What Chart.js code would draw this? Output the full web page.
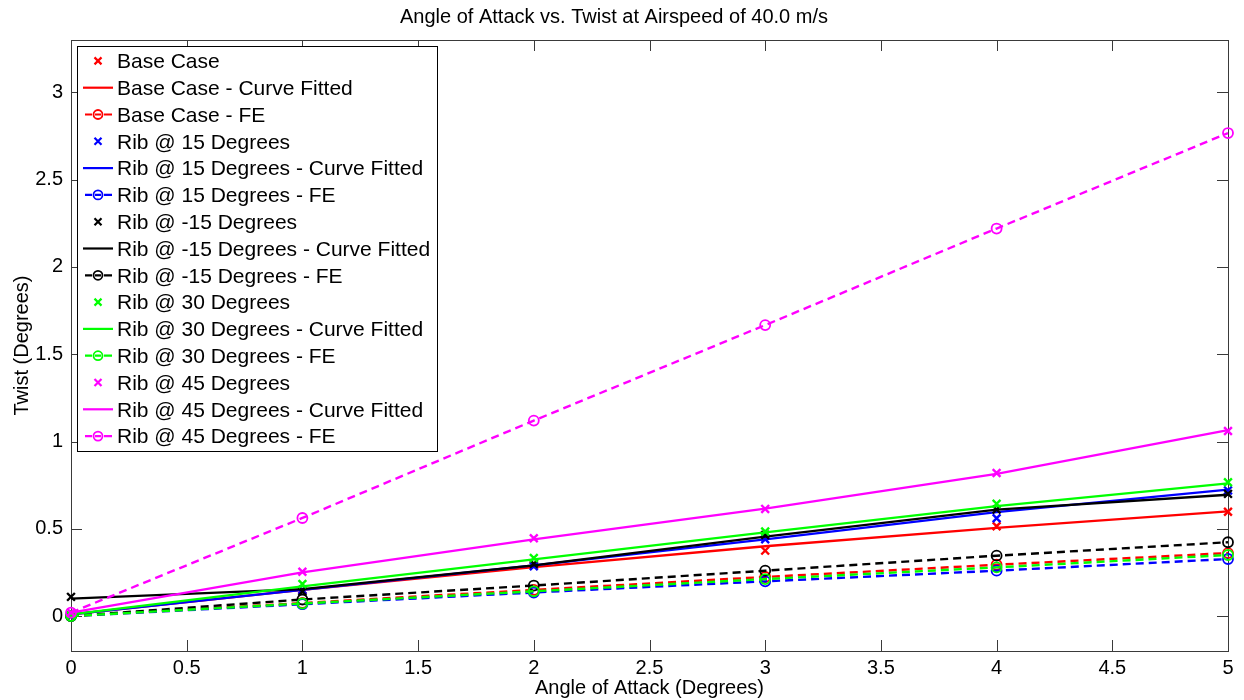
<!DOCTYPE html>
<html><head><meta charset="utf-8">
<script src="https://cdn.jsdelivr.net/npm/chart.js@4.4.0/dist/chart.umd.min.js"></script>
<style>html,body{margin:0;padding:0;background:#fff;}</style>
</head><body>
<canvas id="c" width="1244" height="700"></canvas>
<script>
// ---- data ----
const angles = [0, 1, 2, 3, 4, 5];
const xTicks = [0, 0.5, 1, 1.5, 2, 2.5, 3, 3.5, 4, 4.5, 5];
const yTicks = [0, 0.5, 1, 1.5, 2, 2.5, 3];

const baseCase      = [0.00, 0.15, 0.29, 0.375, 0.515, 0.598];
const baseCaseFit   = [0.01, 0.15, 0.28, 0.40, 0.505, 0.60];
const baseCaseFE    = [0.00, 0.075, 0.15, 0.224, 0.294, 0.361];

const rib15         = [0.00, 0.15, 0.285, 0.44, 0.56, 0.72];
const rib15Fit      = [0.01, 0.15, 0.29, 0.44, 0.595, 0.725];
const rib15FE       = [0.00, 0.068, 0.135, 0.199, 0.26, 0.327];

const ribM15        = [0.11, 0.14, 0.30, 0.465, 0.61, 0.70];
const ribM15Fit     = [0.10, 0.155, 0.29, 0.455, 0.61, 0.695];
const ribM15FE      = [0.00, 0.095, 0.175, 0.26, 0.346, 0.423];

const rib30         = [0.005, 0.184, 0.333, 0.484, 0.643, 0.767];
const rib30Fit      = [0.01, 0.17, 0.325, 0.48, 0.63, 0.76];
const rib30FE       = [0.00, 0.072, 0.142, 0.212, 0.279, 0.35];

const rib45         = [0.02, 0.254, 0.446, 0.614, 0.82, 1.06];
const rib45Fit      = [0.02, 0.25, 0.44, 0.615, 0.815, 1.065];
const rib45FE       = [0.02, 0.562, 1.12, 1.667, 2.22, 2.767];

const groups = [
  {name: 'Base Case',        color: '#ff0000', m: baseCase, f: baseCaseFit, fe: baseCaseFE},
  {name: 'Rib @ 15 Degrees', color: '#0000ff', m: rib15,    f: rib15Fit,    fe: rib15FE},
  {name: 'Rib @ -15 Degrees',color: '#000000', m: ribM15,   f: ribM15Fit,   fe: ribM15FE},
  {name: 'Rib @ 30 Degrees', color: '#00ff00', m: rib30,    f: rib30Fit,    fe: rib30FE},
  {name: 'Rib @ 45 Degrees', color: '#ff00ff', m: rib45,    f: rib45Fit,    fe: rib45FE}
];

const pts = arr => angles.map((a, i) => ({x: a, y: arr[i]}));

const datasets = [];
groups.forEach(g => {
  datasets.push({label: g.name, kind: 'x', data: pts(g.m), showLine: false,
    pointStyle: 'crossRot', pointRadius: 5.5, borderColor: g.color, backgroundColor: g.color,
    pointBorderWidth: 2.4, clip: false});
  datasets.push({label: g.name + ' - Curve Fitted', kind: 'line', data: pts(g.f), showLine: true,
    pointRadius: 0, borderColor: g.color, borderWidth: 2.3, clip: false});
  datasets.push({label: g.name + ' - FE', kind: 'fe', data: pts(g.fe), showLine: true,
    borderDash: [8, 5], borderColor: g.color, borderWidth: 2.4, pointStyle: 'circle',
    pointRadius: 5, pointBorderWidth: 1.8, pointBackgroundColor: 'rgba(0,0,0,0)',
    pointBorderColor: g.color, clip: false});
});
const N = datasets.length;
datasets.forEach((d, i) => { d.order = N - i; });

const FONT = 'Liberation Sans, Arial, Helvetica, sans-serif';
const AXIS = '#3a3a3a';

const axisBox = {
  id: 'axisBox',
  beforeDatasetsDraw(chart) {
    const {ctx, chartArea: a, scales: {x, y}} = chart;
    ctx.save();
    ctx.strokeStyle = AXIS; ctx.lineWidth = 1;
    ctx.beginPath();
    const L = 11;
    x.ticks.forEach(t => {
      const px = Math.round(x.getPixelForValue(t.value)) + 0.5;
      ctx.moveTo(px, a.bottom); ctx.lineTo(px, a.bottom - L);
      ctx.moveTo(px, a.top); ctx.lineTo(px, a.top + L);
    });
    y.ticks.forEach(t => {
      const py = Math.round(y.getPixelForValue(t.value)) + 0.5;
      ctx.moveTo(a.left, py); ctx.lineTo(a.left + L, py);
      ctx.moveTo(a.right, py); ctx.lineTo(a.right - L, py);
    });
    ctx.stroke();
    ctx.strokeRect(Math.round(a.left) + 0.5, Math.round(a.top) + 0.5,
      Math.round(a.right - a.left), Math.round(a.bottom - a.top));
    ctx.restore();
  }
};

const boxLegend = {
  id: 'boxLegend',
  afterDatasetsDraw(chart, args, opts) {
    const ctx = chart.ctx;
    const ds = chart.data.datasets;
    const left = chart.chartArea.left + opts.offsetX;
    const top = chart.chartArea.top + opts.offsetY;
    const rowH = opts.rowHeight;
    ctx.save();
    ctx.font = opts.fontSize + 'px ' + FONT;
    let maxW = 0;
    ds.forEach(d => { maxW = Math.max(maxW, ctx.measureText(d.label).width); });
    const textX = left + opts.textOffset;
    const w = opts.textOffset + maxW + opts.rightPad;
    const h = ds.length * rowH + opts.vPad * 2;
    ctx.fillStyle = '#fff';
    ctx.fillRect(left, top, w, h);
    ctx.strokeStyle = '#000'; ctx.lineWidth = 1;
    ctx.strokeRect(Math.round(left) + 0.5, Math.round(top) + 0.5, Math.round(w), Math.round(h));
    ds.forEach((d, i) => {
      const cy = top + opts.vPad + rowH * i + rowH / 2;
      const mx = left + 21;
      ctx.strokeStyle = d.borderColor; ctx.lineWidth = 2.2;
      if (d.kind === 'x') {
        const r = 3.5;
        ctx.beginPath();
        ctx.moveTo(mx - r, cy - r); ctx.lineTo(mx + r, cy + r);
        ctx.moveTo(mx - r, cy + r); ctx.lineTo(mx + r, cy - r);
        ctx.stroke();
      } else if (d.kind === 'line') {
        ctx.beginPath(); ctx.moveTo(left + 6, cy); ctx.lineTo(left + 36, cy); ctx.stroke();
      } else {
        ctx.beginPath();
        ctx.moveTo(left + 8, cy); ctx.lineTo(left + 15, cy);
        ctx.moveTo(mx - 3, cy); ctx.lineTo(mx + 3, cy);
        ctx.moveTo(left + 27, cy); ctx.lineTo(left + 35, cy);
        ctx.stroke();
        ctx.lineWidth = 1.8;
        ctx.beginPath(); ctx.arc(mx, cy, 4.5, 0, Math.PI * 2); ctx.stroke();
      }
      ctx.fillStyle = '#000';
      ctx.textBaseline = 'middle'; ctx.textAlign = 'left';
      ctx.fillText(d.label, textX, cy + 1.5);
    });
    ctx.restore();
  }
};

new Chart(document.getElementById('c'), {
  type: 'scatter',
  data: {datasets},
  plugins: [axisBox, boxLegend],
  options: {
    responsive: false,
    animation: false,
    layout: {padding: {top: 0, right: 16, left: 0, bottom: 0}},
    plugins: {
      legend: {display: false},
      tooltip: {enabled: false},
      title: {display: true, text: 'Angle of Attack vs. Twist at Airspeed of 40.0 m/s',
        color: '#000', font: {family: FONT, size: 20, weight: 'normal'},
        padding: {top: 5, bottom: 11}},
      boxLegend: {offsetX: 6, offsetY: 6, rowHeight: 26.8, fontSize: 21, textOffset: 40, rightPad: 7, vPad: 1.5}
    },
    scales: {
      x: {
        type: 'linear', position: 'bottom', min: 0, max: 5,
        afterBuildTicks: s => { s.ticks = xTicks.map(v => ({value: v})); },
        afterFit: s => { s.height = 49; },
        grid: {display: false, drawTicks: false},
        border: {display: false},
        ticks: {color: '#000', font: {family: FONT, size: 20}, padding: 5, maxRotation: 0,
          callback: v => String(v)},
        title: {display: true, text: 'Angle of Attack (Degrees)', color: '#000',
          font: {family: FONT, size: 20}, padding: {top: 0, bottom: 0}}
      },
      y: {
        type: 'linear', position: 'left', min: -0.2, max: 3.3,
        afterBuildTicks: s => { s.ticks = yTicks.map(v => ({value: v})); },
        afterFit: s => { s.width = 71; },
        grid: {display: false, drawTicks: false},
        border: {display: false},
        ticks: {color: '#000', font: {family: FONT, size: 20}, padding: 8,
          callback: v => String(v)},
        title: {display: true, text: 'Twist (Degrees)', color: '#000',
          font: {family: FONT, size: 20}, padding: {top: 10, bottom: 0}}
      }
    }
  }
});
</script>
</body></html>
